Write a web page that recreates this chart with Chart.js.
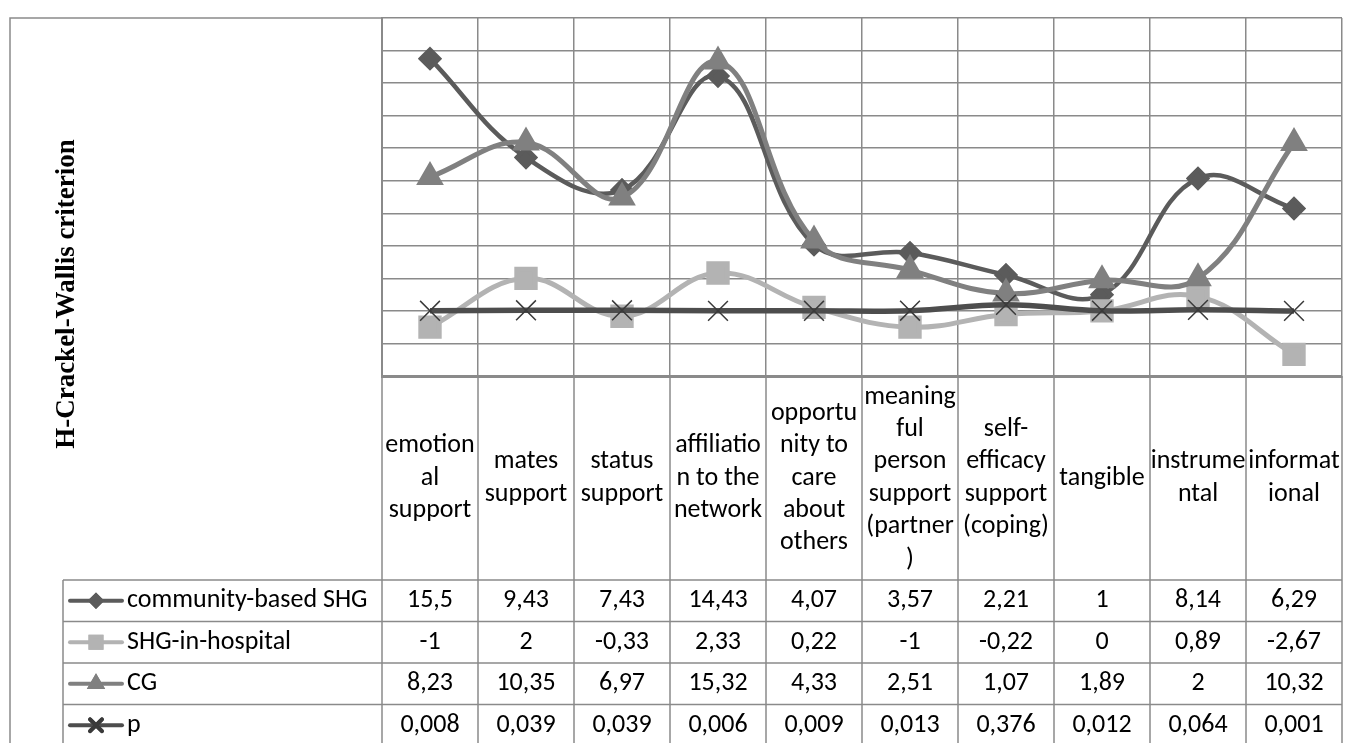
<!DOCTYPE html>
<html>
<head>
<meta charset="utf-8">
<script src="https://cdn.jsdelivr.net/npm/chart.js@4.4.1/dist/chart.umd.min.js"></script>
<style>
  body { margin: 0; background: #fff; }
  canvas { display: block; }
</style>
</head>
<body>
<canvas id="kw-chart" width="1360" height="743"></canvas>
<script>
// categories (wrapped the way the source table wraps them)
const categories = [
  ['emotion', 'al', 'support'],
  ['mates', 'support'],
  ['status', 'support'],
  ['affiliatio', 'n to the', 'network'],
  ['opportu', 'nity to', 'care', 'about', 'others'],
  ['meaning', 'ful', 'person', 'support', '(partner', ')'],
  ['self-', 'efficacy', 'support', '(coping)'],
  ['tangible'],
  ['instrume', 'ntal'],
  ['informat', 'ional']
];

const communitySHG = [15.5, 9.43, 7.43, 14.43, 4.07, 3.57, 2.21, 1, 8.14, 6.29];
const hospitalSHG = [-1, 2, -0.33, 2.33, 0.22, -1, -0.22, 0, 0.89, -2.67];
const controlGroup = [8.23, 10.35, 6.97, 15.32, 4.33, 2.51, 1.07, 1.89, 2, 10.32];
const pValues = [0.008, 0.039, 0.039, 0.006, 0.009, 0.013, 0.376, 0.012, 0.064, 0.001];

const seriesNames = ['community-based SHG', 'SHG-in-hospital', 'CG', 'p'];
const axisTitle = 'H-Crackel-Wallis criterion';

const gridColor = '#8a8a8a';
const labelFont = '26px Carlito, Calibri, Lato, sans-serif';

function fmt(v) {
  return String(v).replace('.', ',');
}

// draws the rotated title, category captions and the data table below the plot
const dataTablePlugin = {
  id: 'dataTable',
  afterDraw(chart) {
    const c = chart.ctx;
    const xs = chart.scales.x;
    const area = chart.chartArea;
    const colW = xs.getPixelForValue(1) - xs.getPixelForValue(0);
    const tableTop = 580;
    const rowH = 41.5;
    const tableLeft = 63;
    const bottom = chart.height + 5;

    c.save();
    c.strokeStyle = gridColor;
    c.lineWidth = 1.5;

    // outer frame
    c.beginPath();
    c.moveTo(10, bottom);
    c.lineTo(10, area.top);
    c.lineTo(area.left, area.top);
    c.stroke();

    // column lines under the plot
    c.beginPath();
    for (let i = 0; i <= categories.length; i++) {
      const x = xs.getPixelForValue(i) - colW / 2;
      c.moveTo(x, area.bottom);
      c.lineTo(x, bottom);
    }
    // table rows
    for (let r = 0; r <= seriesNames.length; r++) {
      const y = tableTop + r * rowH;
      c.moveTo(tableLeft, y);
      c.lineTo(area.right, y);
    }
    c.moveTo(tableLeft, tableTop);
    c.lineTo(tableLeft, bottom);
    c.stroke();

    // axis title
    c.save();
    c.translate(74, 294);
    c.rotate(-Math.PI / 2);
    c.fillStyle = '#000';
    c.font = 'bold 27px "Liberation Serif", "Times New Roman", serif';
    c.textAlign = 'center';
    c.textBaseline = 'alphabetic';
    c.fillText(axisTitle, 0, 0);
    c.restore();

    // category captions
    c.fillStyle = '#000';
    c.font = labelFont;
    c.textAlign = 'center';
    c.textBaseline = 'middle';
    const lineH = 32.4;
    const midY = (area.bottom + tableTop) / 2;
    categories.forEach((lines, i) => {
      const x = xs.getPixelForValue(i);
      const y0 = midY - (lines.length - 1) * lineH / 2;
      lines.forEach((t, k) => c.fillText(t, x, y0 + k * lineH));
    });

    // table values
    const rows = [communitySHG, hospitalSHG, controlGroup, pValues];
    rows.forEach((vals, r) => {
      const y = tableTop + r * rowH + rowH / 2;
      vals.forEach((v, i) => c.fillText(fmt(v), xs.getPixelForValue(i), y));
    });

    // legend keys in the first column
    chart.data.datasets.forEach((ds, r) => {
      const y = tableTop + r * rowH + rowH / 2;
      c.strokeStyle = ds.borderColor;
      c.lineWidth = 4;
      c.lineCap = 'round';
      c.beginPath();
      c.moveTo(70, y);
      c.lineTo(122, y);
      c.stroke();
      Chart.helpers.drawPoint(c, {
        pointStyle: ds.pointStyle,
        radius: ds.pointRadius * 0.6,
        borderWidth: ds.pointBorderWidth || 1
      }, 96, y);
      c.fillStyle = ds.pointBackgroundColor;
      c.strokeStyle = ds.pointBorderColor;
      if (ds.pointStyle !== 'crossRot') c.fill();
      c.stroke();
      c.fillStyle = '#000';
      c.textAlign = 'left';
      c.fillText(seriesNames[r], 127, y);
    });
    c.restore();
  }
};

const ctx = document.getElementById('kw-chart').getContext('2d');
new Chart(ctx, {
  type: 'line',
  data: {
    labels: categories.map(l => l.join(' ')),
    datasets: [{
      label: seriesNames[0],
      data: communitySHG,
      borderColor: '#5b5b5b',
      backgroundColor: '#5b5b5b',
      pointBackgroundColor: '#5b5b5b',
      pointBorderColor: '#5b5b5b',
      pointStyle: 'rectRot',
      pointRadius: 9,
      borderWidth: 4.5,
      order: 3
    },
    {
      label: seriesNames[1],
      data: hospitalSHG,
      borderColor: '#b3b3b3',
      backgroundColor: '#b3b3b3',
      pointBackgroundColor: '#b3b3b3',
      pointBorderColor: '#b3b3b3',
      pointStyle: 'rect',
      pointRadius: 13,
      borderWidth: 5,
      order: 2
    },
    {
      label: seriesNames[2],
      data: controlGroup,
      borderColor: '#808080',
      backgroundColor: '#808080',
      pointBackgroundColor: '#808080',
      pointBorderColor: '#808080',
      pointStyle: 'triangle',
      pointRadius: 11,
      borderWidth: 5,
      order: 1
    },
    {
      label: seriesNames[3],
      data: pValues,
      borderColor: '#4d4d4d',
      backgroundColor: '#4d4d4d',
      pointBackgroundColor: '#3a3a3a',
      pointBorderColor: '#3a3a3a',
      pointStyle: 'crossRot',
      pointRadius: 14,
      pointBorderWidth: 1.5,
      borderWidth: 5.5,
      order: 0
    }]
  },
  options: {
    responsive: false,
    animation: false,
    layout: { padding: { left: 382, right: 3, top: 14, bottom: 367 } },
    elements: { line: { tension: 0.4 } },
    plugins: {
      legend: { display: false },
      tooltip: { enabled: false }
    },
    scales: {
      x: {
        offset: true,
        grid: { color: gridColor, lineWidth: 1.5, offset: true, drawTicks: false },
        border: { color: gridColor, width: 3 },
        ticks: { display: false }
      },
      y: {
        min: -4,
        max: 18,
        ticks: { display: false, stepSize: 2 },
        grid: { color: gridColor, lineWidth: 1.5, drawTicks: false },
        border: { color: gridColor, width: 2 }
      }
    }
  },
  plugins: [dataTablePlugin]
});
</script>
</body>
</html>
